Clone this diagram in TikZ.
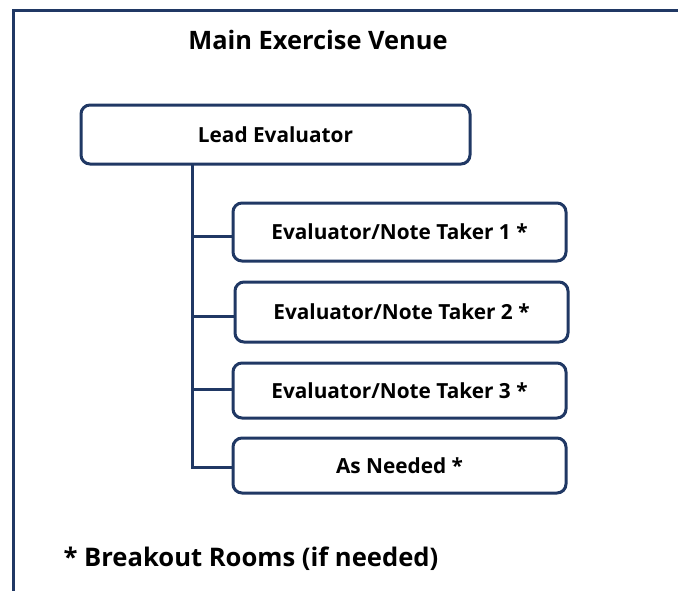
\documentclass[tikz,border=0pt]{standalone}
\usepackage{fontspec}
\setmainfont{Open Sans}
\definecolor{navy}{RGB}{32,56,100}
\tikzset{
  box/.style={draw=navy, line width=3pt, rounded corners=9pt, fill=white,
    minimum width=333pt, font=\bfseries\fontsize{20.8}{24}\selectfont, text=black, inner sep=0pt},
  conn/.style={draw=navy, line width=3pt},
  frameline/.style={draw=navy, line width=3pt}
}
\begin{document}
\begin{tikzpicture}[x=1pt,y=-1pt]
\useasboundingbox (0,0) rectangle (678,590);
\draw[frameline] (13,600) -- (13,10) -- (690,10);
\node[font=\bfseries\fontsize{25.4}{30}\selectfont] (title) at (318,40) {Main Exercise Venue};
\node[box, minimum width=389pt, minimum height=59pt] (lead) at (275.5,134.5) {Lead Evaluator};
\node[box, minimum height=58pt] (n1) at (399.5,232) {Evaluator/Note Taker 1 *};
\node[box, minimum height=60pt] (n2) at (401.5,312) {Evaluator/Note Taker 2 *};
\node[box, minimum height=55pt] (n3) at (399.5,390.5) {Evaluator/Note Taker 3 *};
\node[box, minimum height=55pt] (n4) at (399.5,465.5) {As Needed *};
\coordinate (t) at (192,164);
\draw[conn] (t) |- ([yshift=-4.5pt]n1.west);
\draw[conn] (t) |- ([yshift=-4pt]n2.west);
\draw[conn] (t) |- ([yshift=1.5pt]n3.west);
\draw[conn] (t) |- ([yshift=-1.5pt]n4.west);
\node[anchor=west, font=\bfseries\fontsize{25.6}{30}\selectfont] (foot) at (60,559) {* Breakout Rooms (if needed)};
\end{tikzpicture}
\end{document}
